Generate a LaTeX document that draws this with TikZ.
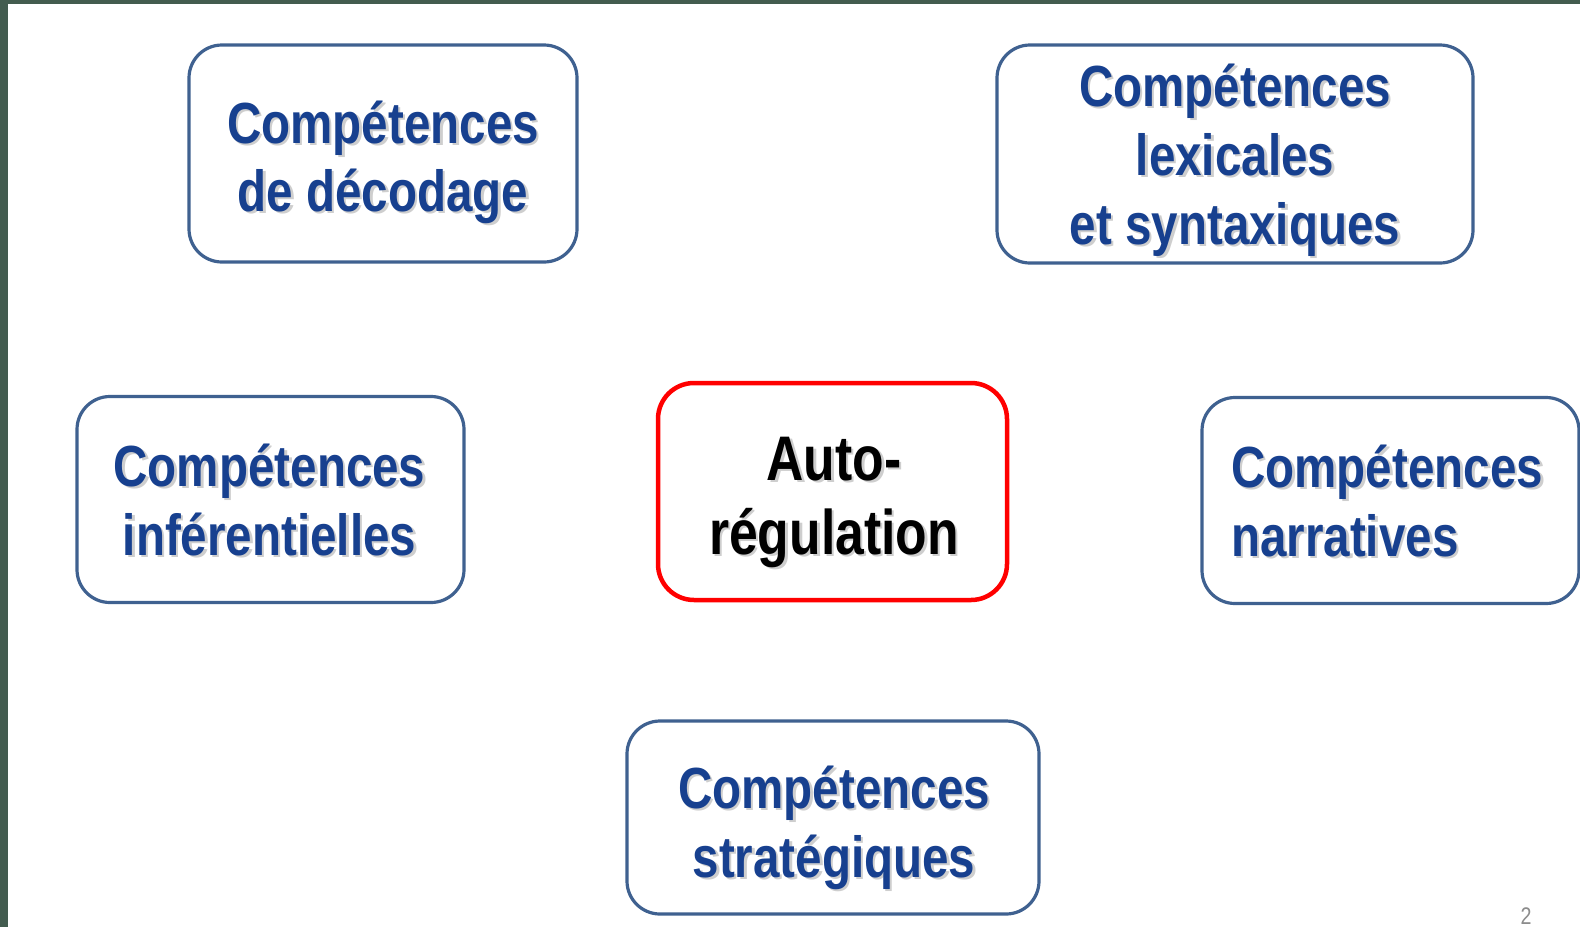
\documentclass[tikz,border=0pt]{standalone}
\usepackage{fontspec}
\setmainfont{Liberation Sans}
\newfontfamily\bluefam{Liberation Sans}[FakeStretch=0.82]
\newfontfamily\blackfam{Liberation Sans}[FakeStretch=0.82]
\definecolor{framegreen}{HTML}{435C4F}
\definecolor{boxblue}{HTML}{3F6190}
\definecolor{txtblue}{HTML}{17408F}
\definecolor{autored}{HTML}{FF0000}
\tikzset{
  bluebox/.style={draw=boxblue, line width=3.2pt, rounded corners=33pt, inner sep=0pt, fill=none},
  redbox/.style={draw=autored, line width=4.5pt, rounded corners=36pt, inner sep=0pt, fill=none},
  bluetxt/.style={font=\bluefam\bfseries\fontsize{58}{69}\selectfont, text=txtblue, inner sep=0pt},
  blacktxt/.style={font=\blackfam\bfseries\fontsize{63}{74}\selectfont, text=black, inner sep=0pt},
  shadowtxt/.style={text=black!55, opacity=0.35},
}
\newcommand\shadtxt[5]{%
  \node[#4, shadowtxt] (#1s) at (#2+2.5,#3+2.5) {#5};
  \node[#4] (#1) at (#2,#3) {#5};}
\begin{document}
\begin{tikzpicture}[x=1pt, y=-1pt]
  \useasboundingbox (0,0) rectangle (1580,927);
  \fill[white] (0,0) rectangle (1580,927);
  \fill[framegreen] (0,0) rectangle (8,927);
  \fill[framegreen] (0,0) rectangle (1580,4);

  % boxes
  \node[bluebox, minimum width=388pt, minimum height=217pt] (dec) at (383,153.5) {};
  \node[bluebox, minimum width=476pt, minimum height=218pt] (lex) at (1235,154) {};
  \node[bluebox, minimum width=387pt, minimum height=206pt] (inf) at (270.5,499.5) {};
  \node[redbox, minimum width=349pt, minimum height=217pt] (auto) at (832.5,491.5) {};
  \node[bluebox, minimum width=377pt, minimum height=206pt] (nar) at (1390.5,500.5) {};
  \node[bluebox, minimum width=412pt, minimum height=193pt] (str) at (833,817.5) {};

  % texts
  \shadtxt{dect1}{383}{143}{bluetxt, anchor=base}{Compétences}
  \shadtxt{dect2}{383}{211}{bluetxt, anchor=base}{de décodage}

  \shadtxt{lext1}{1235}{106}{bluetxt, anchor=base}{Compétences}
  \shadtxt{lext2}{1235}{175}{bluetxt, anchor=base}{lexicales}
  \shadtxt{lext3}{1235}{244}{bluetxt, anchor=base}{et syntaxiques}

  \shadtxt{inft1}{269.5}{486}{bluetxt, anchor=base}{Compétences}
  \shadtxt{inft2}{269.5}{555}{bluetxt, anchor=base}{inférentielles}

  \shadtxt{autot1}{834}{480}{blacktxt, anchor=base}{Auto-}
  \shadtxt{autot2}{834}{554}{blacktxt, anchor=base}{régulation}

  \shadtxt{nart1}{1231}{487}{bluetxt, anchor=base west}{Compétences}
  \shadtxt{nart2}{1231}{556}{bluetxt, anchor=base west}{narratives}

  \shadtxt{strt1}{834}{808}{bluetxt, anchor=base}{Compétences}
  \shadtxt{strt2}{834}{877}{bluetxt, anchor=base}{stratégiques}

  \node[font=\blackfam\fontsize{24}{24}\selectfont, text=black!45, inner sep=0pt, anchor=base] (pg) at (1526,924) {2};
\end{tikzpicture}
\end{document}
